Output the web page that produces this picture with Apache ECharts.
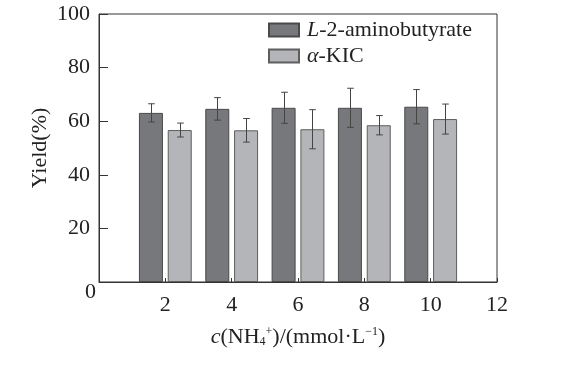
<!DOCTYPE html>
<html>
<head>
<meta charset="utf-8">
<script src="https://cdn.jsdelivr.net/npm/echarts@6/dist/echarts.min.js"></script>
<style>html,body{margin:0;padding:0;background:#fff}#c{width:580px;height:369px}</style>
</head>
<body>
<div id="c"></div>
<script>
var concentrations = [2, 4, 6, 8, 10];
var aminobutyrate = [63.1, 64.6, 65.0, 65.0, 65.4];
var aminobutyrateErr = [3.4, 4.2, 5.8, 7.3, 6.4];
var kic = [56.7, 56.6, 57.0, 58.5, 60.8];
var kicErr = [2.6, 4.4, 7.3, 3.6, 5.6];
var yTicks = [0, 20, 40, 60, 80, 100];
var xTicks = [0, 2, 4, 6, 8, 10, 12];

var FONT = "'Liberation Serif','Times New Roman',serif";
var FS = 22;
var BAR_W = 24, GAP = 4.8;

function pairs(xs, ys) { return xs.map(function (x, i) { return [x, ys[i]]; }); }
function errData(xs, ys, es) { return xs.map(function (x, i) { return [x, ys[i] - es[i], ys[i] + es[i]]; }); }
function errRender(dx) {
  return function (params, api) {
    var lo = api.coord([api.value(0), api.value(1)]);
    var hi = api.coord([api.value(0), api.value(2)]);
    var x = Math.round(lo[0] + dx) + 0.5, cap = 3.3;
    var st = { stroke: '#444', lineWidth: 1 };
    return { type: 'group', children: [
      { type: 'line', shape: { x1: x, y1: lo[1], x2: x, y2: hi[1] }, style: st },
      { type: 'line', shape: { x1: x - cap, y1: lo[1], x2: x + cap, y2: lo[1] }, style: st },
      { type: 'line', shape: { x1: x - cap, y1: hi[1], x2: x + cap, y2: hi[1] }, style: st }
    ]};
  };
}

var chart = echarts.init(document.getElementById('c'));
chart.setOption({
  animation: false,
  textStyle: { fontFamily: FONT },
  grid: { left: 99, right: 83, top: 14, bottom: 87, show: true, borderColor: '#333', borderWidth: 1 },
  legend: {
    left: 268, top: 19, orient: 'vertical', itemWidth: 30, itemHeight: 13, itemGap: 4, padding: 0, icon: 'rect',
    data: ['L-2-aminobutyrate', 'a-KIC'],
    formatter: function (n) { return n === 'a-KIC' ? '{i|α}-KIC' : '{i|L}-2-aminobutyrate'; },
    textStyle: { fontFamily: FONT, fontSize: FS, color: '#222', padding: [0, 0, 0, 3],
      rich: { i: { fontStyle: 'italic', fontFamily: FONT, fontSize: FS, color: '#222' } } }
  },
  xAxis: {
    type: 'value', min: 0, max: 12, interval: 2,
    name: '{i|c}(NH{sub|4}{sup|+})/(mmol·L{sup|−1})', nameLocation: 'middle', nameGap: 44,
    nameTextStyle: { fontFamily: FONT, fontSize: FS, color: '#222',
      rich: {
        i: { fontStyle: 'italic', fontSize: FS, fontFamily: FONT, color: '#222' },
        sub: { fontSize: 12, verticalAlign: 'bottom', fontFamily: FONT, color: '#222', padding: [9, 0, 0, 0] },
        sup: { fontSize: 12, verticalAlign: 'top', fontFamily: FONT, color: '#222', padding: [0, 0, 9, 0] }
      } },
    axisLine: { lineStyle: { color: '#333', width: 1 } },
    axisTick: { inside: true, length: 4, lineStyle: { color: '#333' } },
    axisLabel: { fontSize: FS, color: '#222', fontFamily: FONT, margin: 12,
      formatter: function (v) { return (v === 0 || xTicks.indexOf(v) < 0) ? '' : String(v); } },
    splitLine: { show: false }
  },
  yAxis: {
    type: 'value', min: 0, max: 100, interval: 20,
    name: 'Yield(%)', nameLocation: 'middle', nameGap: 48, nameRotate: 90, nameMoveOverlap: false,
    nameTextStyle: { fontFamily: FONT, fontSize: FS, color: '#222' },
    axisLine: { lineStyle: { color: '#333', width: 1 } },
    axisTick: { inside: true, length: 9, lineStyle: { color: '#333' } },
    axisLabel: { fontSize: FS, color: '#222', fontFamily: FONT, margin: 9,
      formatter: function (v) { return (v === 0 || yTicks.indexOf(v) < 0) ? '' : String(v); } },
    splitLine: { show: false }
  },
  graphic: [{ type: 'text', left: 85, top: 281, style: { text: '0', font: FS + 'px ' + FONT, fill: '#222' } }],
  series: [
    { name: 'L-2-aminobutyrate', type: 'bar', data: pairs(concentrations, aminobutyrate), barWidth: BAR_W, barGap: '20%',
      itemStyle: { color: '#77787c', borderColor: '#4a4a4a', borderWidth: 1 } },
    { name: 'a-KIC', type: 'bar', data: pairs(concentrations, kic), barWidth: BAR_W, barGap: '20%',
      itemStyle: { color: '#b4b5b8', borderColor: '#5e5e5e', borderWidth: 1 } },
    { type: 'custom', renderItem: errRender(-(BAR_W + GAP) / 2), data: errData(concentrations, aminobutyrate, aminobutyrateErr), z: 5 },
    { type: 'custom', renderItem: errRender((BAR_W + GAP) / 2), data: errData(concentrations, kic, kicErr), z: 5 }
  ]
});
</script>
</body>
</html>
